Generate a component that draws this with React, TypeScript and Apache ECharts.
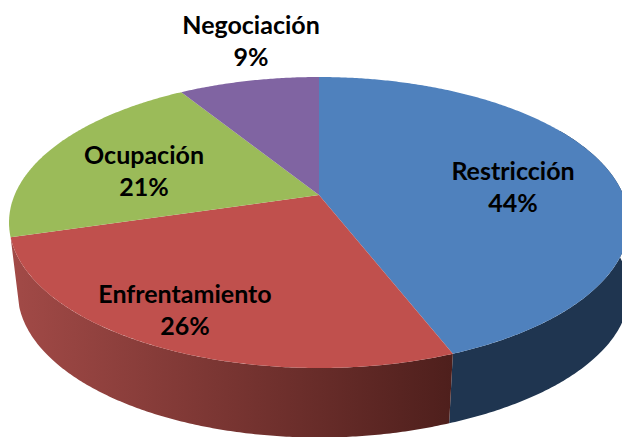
import React, { useEffect, useRef } from "react";
import * as echarts from "echarts";

const categories = ["Restricción", "Enfrentamiento", "Ocupación", "Negociación"];
const shares = [44.1, 26.3, 20.8, 8.8];

const topColors = ["#4f81bd", "#c0504d", "#9bbb59", "#8064a2"];
const labelCenters = [
  [513, 186],
  [185, 309],
  [144, 170],
  [251, 40],
];

// Perspective projection of the pie's circular top face
const APEX_X = 319;
const APEX_Y = 195;
const SCALE_X = 304.4;
const SCALE_Y = 140.3;
const TILT = 0.189;
const WALL_FROM = 60;
const WALL_TO = 253.4;
const WALL_DEPTH = 69.5;

const total = shares.reduce((a, b) => a + b, 0);

function rimPoint(deg: number): number[] {
  const t = (deg * Math.PI) / 180;
  const u = Math.sin(t);
  const v = -Math.cos(t);
  const w = 1 - TILT * v;
  return [APEX_X + (SCALE_X * u) / w, APEX_Y + (SCALE_Y * v) / w];
}

function lowerPoint(p: number[]): number[] {
  const dx = p[0] - APEX_X;
  const shift = p[0] <= 452 ? dx * 0.028 : 3.7 * Math.max(0, 1 - (p[0] - 452) / 168);
  return [p[0] - shift, p[1] + WALL_DEPTH];
}

function arc(from: number, to: number): number[][] {
  const pts: number[][] = [];
  const n = Math.max(2, Math.ceil((to - from) * 2));
  for (let i = 0; i <= n; i++) pts.push(rimPoint(from + ((to - from) * i) / n));
  return pts;
}

function wallFill(index: number): any {
  if (index === 0) return "#1f3550";
  return new echarts.graphic.LinearGradient(0, 0, 1, 0, [
    { offset: 0, color: "#a24a47" },
    { offset: 1, color: "#4e1f1c" },
  ]);
}

function renderSlice(params: any, api: any) {
  const i = params.dataIndex;
  const value = api.value(0);
  let before = 0;
  for (let k = 0; k < i; k++) before += shares[k];
  const from = (before / total) * 360;
  const to = ((before + value) / total) * 360;
  const children: any[] = [];

  const wFrom = Math.max(from, WALL_FROM);
  const wTo = Math.min(to, WALL_TO);
  if (wTo > wFrom) {
    const upper = arc(wFrom, wTo);
    const lower = upper.map(lowerPoint).reverse();
    children.push({
      type: "polygon",
      shape: { points: upper.concat(lower) },
      style: { fill: wallFill(i) },
    });
  }
  children.push({
    type: "polygon",
    shape: { points: [[APEX_X, APEX_Y] as number[]].concat(arc(from, to)) },
    style: { fill: topColors[i] },
  });
  return { type: "group", children };
}

function renderLabel(params: any, api: any) {
  const i = params.dataIndex;
  const [x, y] = labelCenters[i];
  return {
    type: "text",
    x,
    y,
    style: {
      text: categories[i] + "\n" + Math.round(api.value(0)) + "%",
      fontFamily: "Lato",
      fontWeight: "bold",
      fontSize: 25,
      lineHeight: 32,
      fill: "#000000",
      align: "center",
      verticalAlign: "middle",
    },
  };
}

export default function App() {
  const ref = useRef<HTMLDivElement>(null);
  useEffect(() => {
    const chart = echarts.init(ref.current!, null, { renderer: "svg" });
    const data = shares.map((v, i) => ({ name: categories[i], value: [v] }));
    chart.setOption({
      animation: false,
      backgroundColor: "#ffffff",
      series: [
        { type: "custom", coordinateSystem: "none", renderItem: renderSlice, data, z: 1, silent: true },
        { type: "custom", coordinateSystem: "none", renderItem: renderLabel, data, z: 2, silent: true },
      ],
    });
    return () => chart.dispose();
  }, []);
  return (
    <div
      ref={ref}
      style={{ position: "fixed", left: 0, top: 0, width: 622, height: 437 }}
    />
  );
}
